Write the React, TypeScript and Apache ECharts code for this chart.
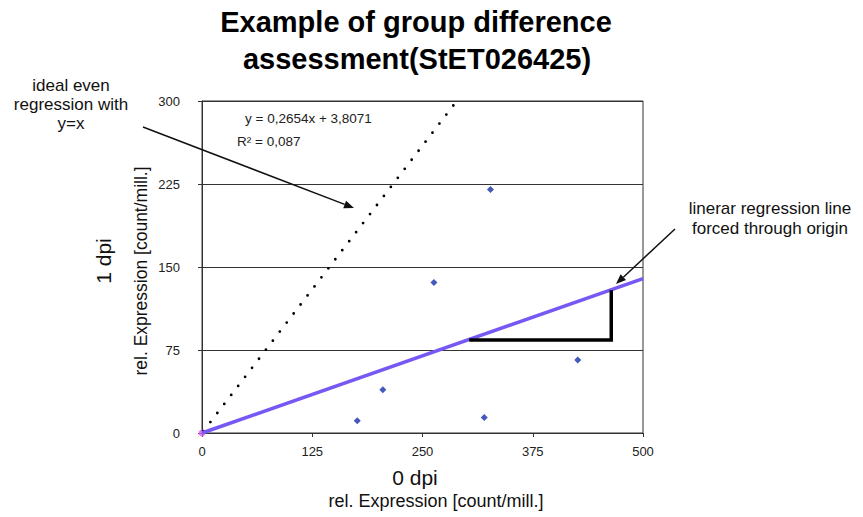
import React, { useEffect, useRef } from "react";
import * as echarts from "echarts";

// ---- data ----
const xTicks = { min: 0, max: 500, interval: 125 };
const yTicks = { min: 0, max: 300, interval: 75 };
const samplePoints: [number, number][] = [
  [327, 220],
  [263, 136],
  [176, 11],
  [205, 39],
  [320, 14],
  [426, 66],
];
const originPoint: [number, number][] = [[0, 0]];
const regressionLine: [number, number][] = [
  [0, 0],
  [500, 139.5],
];
const idealLine: [number, number][] = [
  [0, 0],
  [285, 296],
];
const slopeTriangle: [number, number][] = [
  [303, 84],
  [464, 84],
  [464, 129],
];
const titleLines = ["Example of group difference", "assessment(StET026425)"];
const equationText = "y = 0,2654x + 3,8071";
const r2Text = "R² = 0,087";
const idealNote = "ideal even\nregression with\ny=x";
const regNote = "linerar regression line\nforced through origin";
const yNameMain = "1 dpi";
const yNameSub = "rel. Expression [count/mill.]";
const xNameMain = "0 dpi";
const xNameSub = "rel. Expression [count/mill.]";

const FONT = "'Liberation Sans', Arial, Helvetica, sans-serif";

function arrow(from: number[], to: number[]) {
  const dx = to[0] - from[0];
  const dy = to[1] - from[1];
  const len = Math.sqrt(dx * dx + dy * dy);
  const ux = dx / len;
  const uy = dy / len;
  const hl = 10;
  const hw = 4;
  const bx = to[0] - ux * hl;
  const by = to[1] - uy * hl;
  const px = -uy;
  const py = ux;
  return [
    {
      type: "line",
      shape: { x1: from[0], y1: from[1], x2: bx, y2: by },
      style: { stroke: "#111", lineWidth: 1.5 },
      z: 100,
    },
    {
      type: "polygon",
      shape: {
        points: [
          [to[0], to[1]],
          [bx + px * hw, by + py * hw],
          [bx - px * hw, by - py * hw],
        ],
      },
      style: { fill: "#111" },
      z: 100,
    },
  ];
}

export default function App() {
  const ref = useRef<HTMLDivElement>(null);
  useEffect(() => {
    if (!ref.current) return;
    const chart = echarts.init(ref.current, null, { renderer: "svg" });
    const txt = (
      text: string,
      x: number,
      y: number,
      size: number,
      extra: any = {},
      rotation = 0
    ) => ({
      type: "text",
      x,
      y,
      rotation,
      z: 100,
      style: {
        text,
        fontFamily: FONT,
        fontSize: size,
        fill: "#111",
        align: "center",
        verticalAlign: "middle",
        ...extra,
      },
    });
    chart.setOption({
      animation: false,
      backgroundColor: "#fff",
      grid: {
        left: 202,
        right: 220,
        top: 101,
        bottom: 84,
        show: true,
        borderColor: "#333",
        borderWidth: 1,
      },
      xAxis: {
        type: "value",
        ...xTicks,
        axisLine: { lineStyle: { color: "#333" } },
        axisTick: { show: true, length: 4, lineStyle: { color: "#333" } },
        splitLine: { show: false },
        axisLabel: { fontFamily: FONT, fontSize: 13, color: "#222", margin: 12 },
      },
      yAxis: {
        type: "value",
        ...yTicks,
        axisLine: { show: true, lineStyle: { color: "#333" } },
        axisTick: { show: true, length: 4, lineStyle: { color: "#333" } },
        splitLine: { show: true, lineStyle: { color: "#333", width: 1 } },
        axisLabel: { fontFamily: FONT, fontSize: 13, color: "#222", margin: 22 },
      },
      series: [
        {
          type: "line",
          data: idealLine,
          symbol: "none",
          lineStyle: {
            color: "#000",
            width: 2.8,
            type: [0, 11.4],
            dashOffset: 8.8,
            cap: "round",
          },
          z: 3,
        },
        {
          type: "line",
          data: regressionLine,
          symbol: "none",
          lineStyle: { color: "#7858f4", width: 3.5 },
          z: 4,
        },
        {
          type: "line",
          data: slopeTriangle,
          symbol: "none",
          lineStyle: { color: "#000", width: 3.5, join: "miter" },
          z: 5,
        },
        {
          type: "scatter",
          data: samplePoints,
          symbol: "diamond",
          symbolSize: 7,
          itemStyle: { color: "#1530a8" },
          z: 6,
        },
        {
          type: "scatter",
          data: originPoint,
          symbol: "circle",
          symbolSize: 7,
          itemStyle: { color: "#e060e8" },
          z: 2,
        },
      ],
      graphic: [
        txt(titleLines[0], 416, 22, 29, { fontWeight: "bold", fill: "#000" }),
        txt(titleLines[1], 417, 59, 29, { fontWeight: "bold", fill: "#000" }),
        txt(equationText, 245, 118, 13.5, { align: "left", fill: "#222" }),
        txt(r2Text, 237, 141, 13.5, { align: "left", fill: "#222" }),
        txt(idealNote, 71, 104, 17, { lineHeight: 19 }),
        txt(regNote, 770, 218, 17, { lineHeight: 20 }),
        txt(yNameMain, 103, 261, 21, {}, Math.PI / 2),
        txt(yNameSub, 141, 271, 17.5, {}, Math.PI / 2),
        txt(xNameMain, 415, 477, 21),
        txt(xNameSub, 436, 501, 18),
        ...arrow([143, 127], [354, 208]),
        ...arrow([675, 229], [616, 284]),
      ],
    });
    return () => chart.dispose();
  }, []);
  return (
    <div
      ref={ref}
      style={{ position: "fixed", left: 0, top: 0, width: 863, height: 517 }}
    />
  );
}
